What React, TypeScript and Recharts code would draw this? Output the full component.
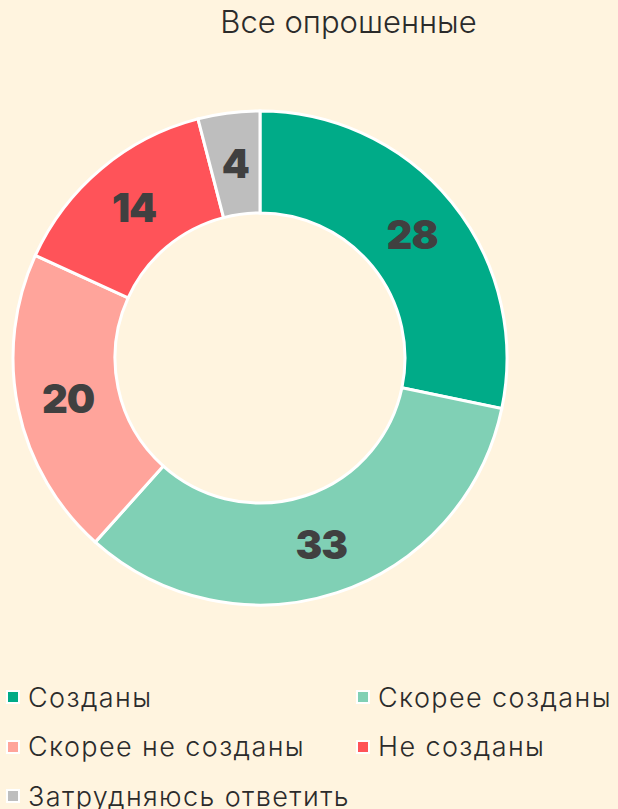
import React from 'react';
import { PieChart, Pie, Cell, Legend } from 'recharts';

const categories = ['Созданы', 'Скорее созданы', 'Скорее не созданы', 'Не созданы', 'Затрудняюсь ответить'];
const values = [28, 33, 20, 14, 4];
const colors = ['#00AB88', '#80D0B5', '#FFA49B', '#FF5359', '#BEBEBE'];
const title = 'Все опрошенные';

const data = categories.map((name, i) => ({ name, value: values[i] }));
const RAD = Math.PI / 180;

const renderLabel = (props: any) => {
  const { cx, cy, midAngle, innerRadius, outerRadius, value } = props;
  const r = (innerRadius + outerRadius) / 2;
  const x = cx + r * Math.cos(-midAngle * RAD);
  const y = cy + r * Math.sin(-midAngle * RAD);
  return (
    <text x={x} y={y} fill="#404040" textAnchor="middle" dominantBaseline="central"
      style={{ fontFamily: 'Inter, Roboto, sans-serif', fontWeight: 900, fontSize: 40, letterSpacing: -1 }}>
      {value}
    </text>
  );
};

const renderLegend = () => (
  <div style={{ display: 'grid', gridTemplateColumns: '350px 268px', rowGap: 15.5, fontFamily: 'Inter, Roboto, sans-serif', fontWeight: 300, fontSize: 27, letterSpacing: 1.4, color: '#2b2b2b' }}>
    {data.map((d, i) => (
      <div key={d.name} style={{ display: 'flex', alignItems: 'center', height: 34, whiteSpace: 'nowrap' }}>
        <span style={{ display: 'inline-block', width: 10, height: 10, background: colors[i], border: '2px solid #fff', marginLeft: 6, marginRight: 8 }} />
        <span>{d.name}</span>
      </div>
    ))}
  </div>
);

export default function App() {
  return (
    <div style={{ position: 'absolute', left: 0, top: 0, width: 618, height: 809, background: '#FFF4DF', overflow: 'hidden' }}>
      <div style={{ position: 'absolute', left: 0, top: 3, width: 697, textAlign: 'center', fontFamily: 'Inter, Roboto, sans-serif', fontWeight: 300, fontSize: 31, color: '#2b2b2b' }}>
        {title}
      </div>
      <PieChart width={618} height={809} margin={{ top: 0, right: 0, bottom: 0, left: 0 }}>
        <Pie data={data} dataKey="value" nameKey="name" cx={260} cy={358} innerRadius={145} outerRadius={247}
          startAngle={90} endAngle={-270} stroke="#ffffff" strokeWidth={3} label={renderLabel} labelLine={false}
          isAnimationActive={false}>
          {data.map((d, i) => <Cell key={d.name} fill={colors[i]} />)}
        </Pie>
        <Legend content={renderLegend} wrapperStyle={{ left: 0, top: 680, width: 618, height: 129 }} />
      </PieChart>
    </div>
  );
}
